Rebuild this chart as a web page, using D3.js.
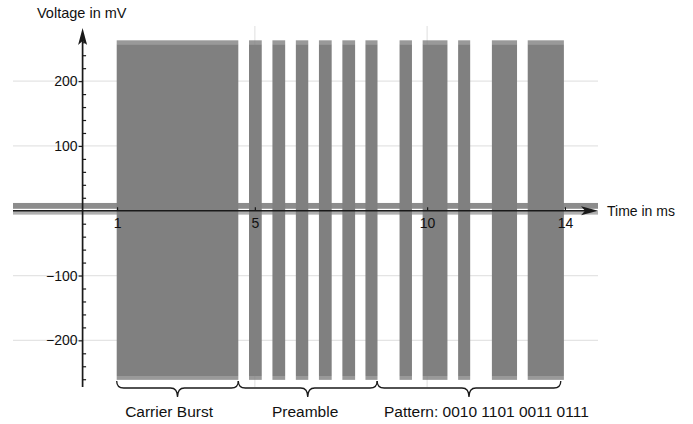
<!DOCTYPE html>
<html>
<head>
<meta charset="utf-8">
<script src="https://cdn.jsdelivr.net/npm/d3@7"></script>
<style>
  body { margin: 0; background: #fff; }
  text { font-family: "Liberation Sans", Arial, sans-serif; fill: #111; }
</style>
</head>
<body>
<div id="chart"></div>
<script>
// burst start / end times in ms
var burstStart = [0.99, 4.83, 5.51, 6.19, 6.86, 7.54, 8.21, 9.20, 9.87, 10.90, 11.88, 12.92];
var burstEnd   = [4.52, 5.20, 5.88, 6.55, 7.23, 7.91, 8.56, 9.56, 10.59, 11.25, 12.61, 13.97];
// envelope of the bursts in mV
var burstTop = 263;
var burstBottom = -261;
// noise between bursts in mV
var noiseHigh = 12;
var noiseLow = -6;

var timeRange = [-2.02, 14.96];
var voltRange = [-272, 282];

var xTicks = [1, 5, 10, 14];
var yTicks = [-200, -100, 100, 200];
var yMinor = [-260, -240, -220, -180, -160, -140, -120, -80, -60, -40, -20,
              20, 40, 60, 80, 120, 140, 160, 180, 220, 240, 260];
var xGrid = [5, 10];

var braceLabels = ["Carrier Burst", "Preamble", "Pattern: 0010 1101 0011 0111"];
var braceStart = [0.99, 4.52, 8.55];
var braceEnd = [4.52, 8.55, 13.88];
var braceLabelAt = [2.51, 6.46, 11.72];

var svgWidth = 693;
var svgHeight = 424;

var svg = d3.select("#chart")
  .append("svg")
  .attr("width", svgWidth)
  .attr("height", svgHeight);

var x = d3.scaleLinear()
  .domain(timeRange)
  .range([13, 598]);

var y = d3.scaleLinear()
  .domain(voltRange)
  .range([387, 28]);

var grey = "#808080";
var gridColor = "#e4e4e4";

// grid lines
svg.selectAll(".hgrid")
  .data(yTicks)
  .enter()
  .append("line")
  .attr("x1", x(timeRange[0]))
  .attr("x2", x(timeRange[1]))
  .attr("y1", d => y(d))
  .attr("y2", d => y(d))
  .attr("stroke", gridColor)
  .attr("stroke-width", 1.2);

svg.selectAll(".vgrid")
  .data(xGrid)
  .enter()
  .append("line")
  .attr("x1", d => x(d))
  .attr("x2", d => x(d))
  .attr("y1", y(voltRange[1]) - 2)
  .attr("y2", y(voltRange[0]))
  .attr("stroke", gridColor)
  .attr("stroke-width", 1.2);

// noise floor
svg.append("rect")
  .attr("x", x(timeRange[0]))
  .attr("width", x(timeRange[1]) - x(timeRange[0]))
  .attr("y", y(noiseHigh))
  .attr("height", y(3) - y(noiseHigh))
  .attr("fill", grey)
  .attr("opacity", 0.9);

svg.append("rect")
  .attr("x", x(timeRange[0]))
  .attr("width", x(timeRange[1]) - x(timeRange[0]))
  .attr("y", y(0))
  .attr("height", y(noiseLow) - y(0))
  .attr("fill", "#b0b0b0");

// bursts
var bursts = burstStart.map((s, i) => ({ start: s, end: burstEnd[i] }));

svg.selectAll(".burst")
  .data(bursts)
  .enter()
  .append("rect")
  .attr("class", "burst")
  .attr("x", d => x(d.start))
  .attr("width", d => x(d.end) - x(d.start))
  .attr("y", y(burstTop - 6))
  .attr("height", y(burstBottom + 6) - y(burstTop - 6))
  .attr("fill", grey);

// ragged edges, slightly lighter
svg.selectAll(".edgeTop")
  .data(bursts)
  .enter()
  .append("rect")
  .attr("x", d => x(d.start))
  .attr("width", d => x(d.end) - x(d.start))
  .attr("y", y(burstTop))
  .attr("height", y(burstTop - 6) - y(burstTop))
  .attr("fill", grey)
  .attr("opacity", 0.8);

svg.selectAll(".edgeBottom")
  .data(bursts)
  .enter()
  .append("rect")
  .attr("x", d => x(d.start))
  .attr("width", d => x(d.end) - x(d.start))
  .attr("y", y(burstBottom + 6))
  .attr("height", y(burstBottom) - y(burstBottom + 6))
  .attr("fill", grey)
  .attr("opacity", 0.8);

// axes
var axisColor = "#1a1a1a";

svg.append("line")
  .attr("x1", x(timeRange[0]))
  .attr("x2", x(timeRange[1]) - 10)
  .attr("y1", y(0))
  .attr("y2", y(0))
  .attr("stroke", axisColor)
  .attr("stroke-width", 1.7);

svg.append("path")
  .attr("d", `M${x(timeRange[1])},${y(0)} L${x(timeRange[1]) - 17},${y(0) - 4.5} L${x(timeRange[1]) - 13},${y(0)} L${x(timeRange[1]) - 17},${y(0) + 4.5} Z`)
  .attr("fill", axisColor);

svg.append("line")
  .attr("x1", x(0))
  .attr("x2", x(0))
  .attr("y1", y(voltRange[0]))
  .attr("y2", y(voltRange[1]) + 10)
  .attr("stroke", axisColor)
  .attr("stroke-width", 1.7);

svg.append("path")
  .attr("d", `M${x(0)},${y(voltRange[1])} L${x(0) - 4.5},${y(voltRange[1]) + 17} L${x(0)},${y(voltRange[1]) + 13} L${x(0) + 4.5},${y(voltRange[1]) + 17} Z`)
  .attr("fill", axisColor);

var bottomAxis = d3.axisBottom(x)
  .tickValues(xTicks)
  .tickSizeInner(-3.5)
  .tickSizeOuter(0)
  .tickPadding(7)
  .tickFormat(d3.format("d"));

var xAxisG = svg.append("g")
  .attr("transform", `translate(0, ${y(0)})`)
  .call(bottomAxis);

var leftAxis = d3.axisLeft(y)
  .tickValues(yTicks)
  .tickSizeInner(4)
  .tickSizeOuter(0)
  .tickPadding(1)
  .tickFormat(d3.format("d"));

var yAxisG = svg.append("g")
  .attr("transform", `translate(${x(0)}, 0)`)
  .call(leftAxis);

var minorAxis = d3.axisRight(y)
  .tickValues(yMinor)
  .tickSizeInner(3.5)
  .tickSizeOuter(0)
  .tickFormat("");

var yMinorG = svg.append("g")
  .attr("transform", `translate(${x(0)}, 0)`)
  .call(minorAxis);

[xAxisG, yAxisG, yMinorG].forEach(function(g) {
  g.select(".domain").remove();
  g.selectAll("line").attr("stroke", axisColor).attr("stroke-width", 1.2);
  g.selectAll("text")
    .attr("font-size", "14px")
    .attr("font-family", "Liberation Sans, Arial, sans-serif")
    .attr("fill", "#111");
});

svg.append("text")
  .attr("x", 37)
  .attr("y", 17.5)
  .attr("font-size", "14.5px")
  .text("Voltage in mV");

svg.append("text")
  .attr("x", 607)
  .attr("y", 215.5)
  .attr("font-size", "14px")
  .text("Time in ms");

// braces under the bursts
var braceTop = 381;
var braceMid = 388;
var braceTip = 397;

function bracePath(x1, x2) {
  var xm = (x1 + x2) / 2;
  return `M${x1},${braceTop} Q${x1},${braceMid} ${x1 + 7},${braceMid} ` +
    `L${xm - 7},${braceMid} Q${xm},${braceMid} ${xm},${braceTip} ` +
    `Q${xm},${braceMid} ${xm + 7},${braceMid} ` +
    `L${x2 - 7},${braceMid} Q${x2},${braceMid} ${x2},${braceTop}`;
}

svg.selectAll(".brace")
  .data(braceLabels)
  .enter()
  .append("path")
  .attr("d", (d, i) => bracePath(x(braceStart[i]), x(braceEnd[i])))
  .attr("fill", "none")
  .attr("stroke", axisColor)
  .attr("stroke-width", 1.3);

svg.selectAll(".braceLabel")
  .data(braceLabels)
  .enter()
  .append("text")
  .attr("x", (d, i) => x(braceLabelAt[i]))
  .attr("y", 417)
  .attr("text-anchor", "middle")
  .attr("font-size", "15.5px")
  .text(d => d);
</script>
</body>
</html>
